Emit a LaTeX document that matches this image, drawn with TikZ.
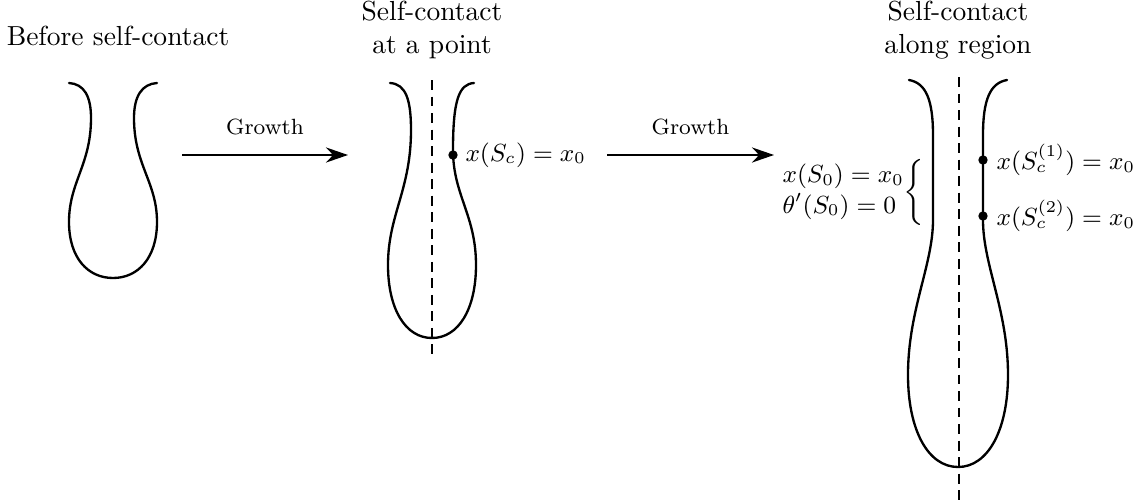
\documentclass[tikz,border=0pt]{standalone}
\usetikzlibrary{arrows.meta}
\begin{document}
\begin{tikzpicture}[x=0.363pt,y=-0.363pt,
  curve/.style={line width=0.85pt,line cap=round},
  axis/.style={line width=0.85pt,dash pattern=on 3.6pt off 2.4pt},
  growarrow/.style={line width=0.6pt,-{Stealth[length=8pt,width=5.5pt]}},
  title/.style={align=center,font=\normalsize,inner sep=0pt},
  lab/.style={font=\small,inner sep=0pt},
  contactdot/.style={circle,fill=black,inner sep=0pt,minimum size=3.4pt}]
\useasboundingbox (0,0) rectangle (1138,503);

% titles
\node[title] (t1) at (118,36) {Before self-contact};
\node[title] (t2) at (432,30) {Self-contact\\at a point};
\node[title] (t3) at (958,30) {Self-contact\\along region};

% shape 1
\draw[curve] (69,83) .. controls (84,84) and (91,96) .. (91,118)
  .. controls (91,165) and (69,182) .. (69,222)
  .. controls (69,258) and (88,278) .. (113,278)
  .. controls (138,278) and (157,258) .. (157,222)
  .. controls (157,182) and (134,165) .. (134,118)
  .. controls (134,96) and (142,84) .. (157,83);

% arrow 1
\coordinate (a1s) at (182,155);
\coordinate (a1e) at (348,155);
\draw[growarrow] (a1s) -- (a1e) node[midway,above=7pt,lab,font=\footnotesize] (g1) {Growth};

% shape 2
\coordinate (ax2t) at (432,80);
\coordinate (ax2b) at (432,358);
\draw[axis] (ax2t) -- (ax2b);
\draw[curve] (390,83) .. controls (406,84) and (411,100) .. (411,130)
  .. controls (411,190) and (388,215) .. (388,265)
  .. controls (388,310) and (406,338) .. (432,338)
  .. controls (458,338) and (476,310) .. (476,265)
  .. controls (476,215) and (453,195) .. (453,150)
  .. controls (453,100) and (459,84) .. (474,83);
\node[contactdot] (c2) at (453,155) {};
\node[lab,anchor=west] (l2) at (465,155) {$x(S_c)=x_0$};

% arrow 2
\coordinate (a2s) at (607,155);
\coordinate (a2e) at (774,155);
\draw[growarrow] (a2s) -- (a2e) node[midway,above=7pt,lab,font=\footnotesize] (g2) {Growth};

% shape 3
\coordinate (ax3t) at (959,77);
\coordinate (ax3b) at (959,500);
\draw[axis] (ax3t) -- (ax3b);
\draw[curve] (909,80) .. controls (926,83) and (933,100) .. (933,135)
  -- (933,220)
  .. controls (933,265) and (908,310) .. (908,375)
  .. controls (908,430) and (928,467) .. (958,467)
  .. controls (988,467) and (1008,430) .. (1008,375)
  .. controls (1008,310) and (983,265) .. (983,220)
  -- (983,135)
  .. controls (983,100) and (990,83) .. (1007,80);
\node[contactdot] (c31) at (983,160) {};
\node[contactdot] (c32) at (983,216) {};
\node[lab,anchor=west] (l31) at (996,160) {$x(S_c^{(1)})=x_0$};
\node[lab,anchor=west] (l32) at (996,216) {$x(S_c^{(2)})=x_0$};
\node[lab,anchor=east] (l30) at (925,192) {$\left.\begin{array}{@{}l@{}}x(S_0)=x_0\\ \theta'(S_0)=0\end{array}\right\{$};
\end{tikzpicture}
\end{document}
